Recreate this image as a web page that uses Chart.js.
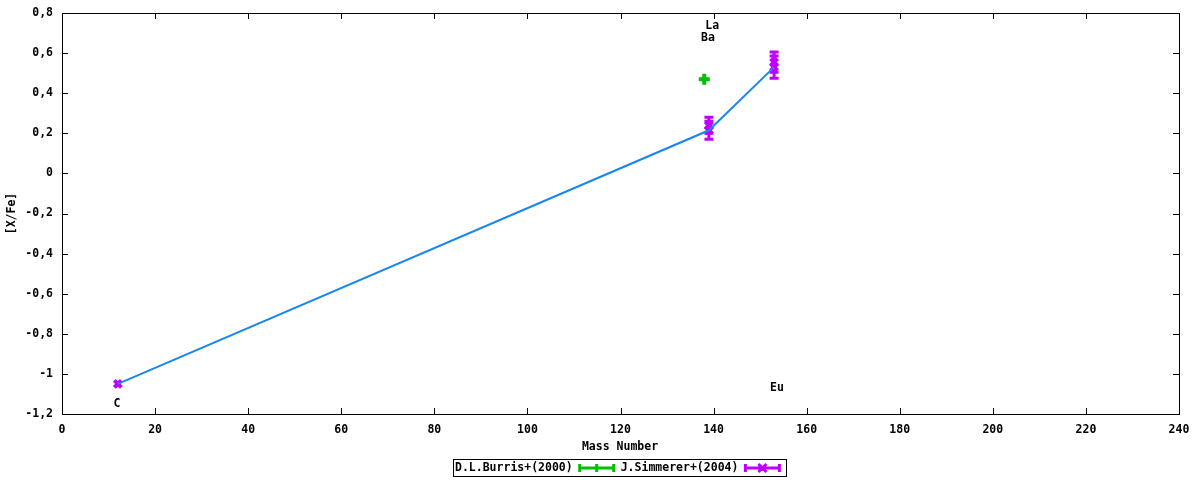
<!doctype html>
<html lang="en">
<head>
    <meta charset="utf-8">
    <title>[X/Fe] vs Mass Number</title>
    <script src="https://cdn.jsdelivr.net/npm/chart.js"></script>
    <style>
        html, body { margin: 0; padding: 0; background: #fff; }
        #chart { display: block; }
    </style>
</head>
<body>
    <canvas id="chart" width="1200" height="480"></canvas>
    <script>
        // D.L.Burris+(2000)
        const burrisMass = [138];
        const burrisVal = [0.47];
        const burrisErr = [0];

        // J.Simmerer+(2004)
        const simmererMass = [12, 139, 139, 153, 153];
        const simmererVal = [-1.05, 0.24, 0.215, 0.555, 0.53];
        const simmererErr = [0, 0.04, 0.045, 0.05, 0.055];

        // connecting line
        const lineMass = [12, 139, 153];
        const lineVal = [-1.05, 0.215, 0.53];

        // element labels (name, mass, [X/Fe])
        const labelNames = ['La', 'Ba', 'C', 'Eu'];
        const labelMass = [139.7, 138.8, 11.8, 153.6];
        const labelVal = [0.737, 0.677, -1.148, -1.068];

        const xTicksMin = 0, xTicksMax = 240, xStep = 20;
        const yTicksMin = -1.2, yTicksMax = 0.8, yStep = 0.2;

        const FONT = 'bold 11.5px "DejaVu Sans Mono", monospace';
        const GREEN = '#00c000';
        const MAGENTA = '#c000ff';
        const BLUE = '#1a86f0';

        const toPts = (xs, ys, es) => xs.map((x, i) => ({ x: x, y: ys[i], err: es ? es[i] : 0 }));

        function drawErrBar(ctx, x, yTop, yBot, color) {
            ctx.save();
            ctx.strokeStyle = color;
            ctx.lineWidth = 3;
            ctx.beginPath();
            ctx.moveTo(x, yTop); ctx.lineTo(x, yBot);
            ctx.moveTo(x - 4.5, yTop); ctx.lineTo(x + 4.5, yTop);
            ctx.moveTo(x - 4.5, yBot); ctx.lineTo(x + 4.5, yBot);
            ctx.stroke();
            ctx.restore();
        }

        const gnuplotLook = {
            id: 'gnuplotLook',
            beforeDatasetsDraw(chart) {
                const ctx = chart.ctx;
                const ys = chart.scales.y;
                chart.data.datasets.forEach((ds, di) => {
                    if (!ds.errBars) return;
                    const meta = chart.getDatasetMeta(di);
                    ds.data.forEach((p, i) => {
                        if (!p.err) return;
                        const el = meta.data[i];
                        drawErrBar(ctx, el.x, ys.getPixelForValue(p.y + p.err), ys.getPixelForValue(p.y - p.err), ds.borderColor);
                    });
                });
            },
            afterDraw(chart) {
                const ctx = chart.ctx;
                const a = chart.chartArea;
                const xs = chart.scales.x, ys = chart.scales.y;
                ctx.save();
                // border
                ctx.strokeStyle = '#000';
                ctx.lineWidth = 1;
                ctx.strokeRect(Math.round(a.left) + 0.5, Math.round(a.top) + 0.5,
                    Math.round(a.right - a.left), Math.round(a.bottom - a.top));
                // inward ticks, mirrored
                ctx.beginPath();
                xs.ticks.forEach(t => {
                    const px = Math.round(xs.getPixelForValue(t.value)) + 0.5;
                    ctx.moveTo(px, a.bottom); ctx.lineTo(px, a.bottom - 6);
                    ctx.moveTo(px, a.top); ctx.lineTo(px, a.top + 6);
                });
                ys.ticks.forEach(t => {
                    const py = Math.round(ys.getPixelForValue(t.value)) + 0.5;
                    ctx.moveTo(a.left, py); ctx.lineTo(a.left + 6, py);
                    ctx.moveTo(a.right, py); ctx.lineTo(a.right - 6, py);
                });
                ctx.stroke();

                // element labels
                ctx.font = FONT;
                ctx.fillStyle = '#000';
                ctx.textAlign = 'center';
                ctx.textBaseline = 'middle';
                labelNames.forEach((n, i) => {
                    ctx.fillText(n, xs.getPixelForValue(labelMass[i]), ys.getPixelForValue(labelVal[i]));
                });

                // axis titles
                ctx.fillText('Mass Number', 620, 447);
                ctx.save();
                ctx.translate(12, (a.top + a.bottom) / 2);
                ctx.rotate(-Math.PI / 2);
                ctx.fillText('[X/Fe]', 0, 0);
                ctx.restore();

                // legend box
                const entries = [
                    { text: 'D.L.Burris+(2000)', color: GREEN, mark: 'plus' },
                    { text: 'J.Simmerer+(2004)', color: MAGENTA, mark: 'x' }
                ];
                const sampleW = 36, gap = 6;
                let lx = 455;
                const ly = 468;
                ctx.textAlign = 'left';
                entries.forEach(e => {
                    ctx.fillStyle = '#000';
                    ctx.fillText(e.text, lx, ly);
                    lx += ctx.measureText(e.text).width + gap;
                    ctx.strokeStyle = e.color;
                    ctx.lineWidth = 3;
                    ctx.beginPath();
                    ctx.moveTo(lx, ly); ctx.lineTo(lx + sampleW, ly);
                    ctx.moveTo(lx + 1, ly - 4); ctx.lineTo(lx + 1, ly + 4);
                    ctx.moveTo(lx + sampleW - 1, ly - 4); ctx.lineTo(lx + sampleW - 1, ly + 4);
                    const cx = lx + sampleW / 2;
                    if (e.mark === 'plus') {
                        ctx.moveTo(cx, ly - 4); ctx.lineTo(cx, ly + 4);
                    } else {
                        ctx.moveTo(cx - 4, ly - 4); ctx.lineTo(cx + 4, ly + 4);
                        ctx.moveTo(cx + 4, ly - 4); ctx.lineTo(cx - 4, ly + 4);
                    }
                    ctx.stroke();
                    lx += sampleW + gap;
                });
                ctx.strokeStyle = '#000';
                ctx.lineWidth = 1;
                ctx.strokeRect(453.5, 459.5, Math.round(lx - 453), 17);
                ctx.restore();
            }
        };

        Chart.defaults.font.family = '"DejaVu Sans Mono", monospace';
        Chart.defaults.font.size = 11.5;
        Chart.defaults.font.weight = 'bold';
        Chart.defaults.color = '#000';

        new Chart(document.getElementById('chart'), {
            type: 'scatter',
            data: {
                datasets: [
                    {
                        label: 'line',
                        type: 'line',
                        data: toPts(lineMass, lineVal),
                        showLine: true,
                        borderColor: BLUE,
                        borderWidth: 2,
                        pointRadius: 0,
                        fill: false,
                        tension: 0
                    },
                    {
                        label: 'D.L.Burris+(2000)',
                        data: toPts(burrisMass, burrisVal, burrisErr),
                        errBars: true,
                        pointStyle: 'cross',
                        radius: 5.5,
                        borderWidth: 4,
                        borderColor: GREEN,
                        backgroundColor: GREEN
                    },
                    {
                        label: 'J.Simmerer+(2004)',
                        data: toPts(simmererMass, simmererVal, simmererErr),
                        errBars: true,
                        pointStyle: 'crossRot',
                        radius: 5,
                        borderWidth: 4,
                        borderColor: MAGENTA,
                        backgroundColor: MAGENTA
                    }
                ]
            },
            options: {
                responsive: false,
                animation: false,
                layout: { padding: { top: 13, right: 21, left: 0, bottom: 0 } },
                plugins: {
                    legend: { display: false },
                    tooltip: { enabled: false }
                },
                scales: {
                    x: {
                        type: 'linear',
                        min: xTicksMin,
                        max: xTicksMax,
                        grid: { display: false, drawTicks: false },
                        border: { display: false },
                        ticks: { stepSize: xStep, padding: 9, maxRotation: 0 },
                        afterFit(s) {
                            s.height = 66;
                            s.paddingLeft = 0; s.paddingRight = 0;
                        }
                    },
                    y: {
                        type: 'linear',
                        min: yTicksMin,
                        max: yTicksMax,
                        grid: { display: false, drawTicks: false },
                        border: { display: false },
                        ticks: {
                            stepSize: yStep,
                            padding: 9,
                            callback: v => String(Number(v.toFixed(1))).replace('.', ',')
                        },
                        afterFit(s) {
                            s.width = 62;
                            s.paddingTop = 0; s.paddingBottom = 0;
                        }
                    }
                }
            },
            plugins: [gnuplotLook]
        });
    </script>
</body>
</html>
